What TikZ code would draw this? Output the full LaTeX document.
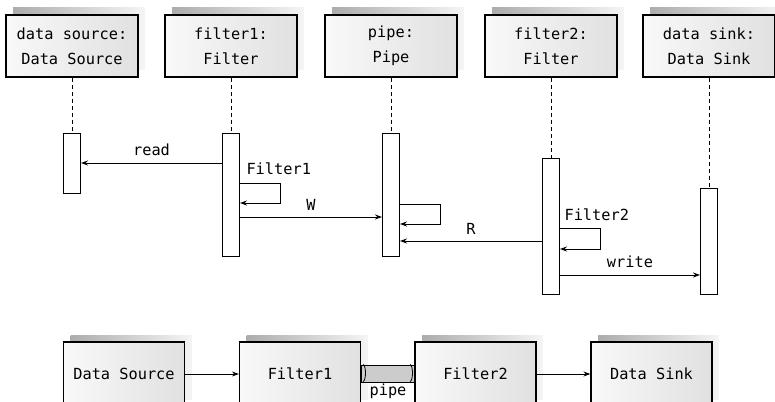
\documentclass[tikz,border=0pt]{standalone}
\usepackage{fontspec}
\setmonofont{DejaVu Sans Mono}
\usetikzlibrary{arrows.meta,shadows}

\begin{document}
\begin{tikzpicture}[>={Stealth[length=7pt,width=5pt]}, x=1pt, y=-1pt,
  every node/.style={font=\ttfamily\fontsize{15.3}{25}\selectfont},
  head/.style={draw, line width=1.2pt, minimum width=132pt, minimum height=62pt, align=center,
    left color=gray!5, right color=gray!24,
    general shadow={shadow xshift=7pt, shadow yshift=7pt, left color=gray!65, right color=gray!8}},
  block/.style={head, minimum width=121pt, minimum height=64pt},
  bar/.style={draw, line width=1pt, fill=white, minimum width=17pt, inner sep=0pt, anchor=north},
  msg/.style={->, line width=1pt},
  life/.style={dash pattern=on 4pt off 3pt, line width=1pt}]
  \def\loopw{40}
  \clip (0,0) rectangle (775,401);
  % object heads
  \node[head] (ds) at (72,46) {data source:\\Data Source};
  \node[head] (f1) at (231,46) {filter1:\\Filter};
  \node[head] (pp) at (391,46) {pipe:\\Pipe};
  \node[head] (f2) at (551,46) {filter2:\\Filter};
  \node[head] (dk) at (709,46) {data sink:\\Data Sink};
  % activation bars
  \node[bar, minimum height=60pt] (dsbar) at (72,133) {};
  \node[bar, minimum height=123pt] (f1bar) at (231,133) {};
  \node[bar, minimum height=123pt] (ppbar) at (391,133) {};
  \node[bar, minimum height=136pt] (f2bar) at (551,158) {};
  \node[bar, minimum height=106pt] (dkbar) at (709,188) {};
  \draw[life] (ds) -- (dsbar);
  \draw[life] (f1) -- (f1bar);
  \draw[life] (pp) -- (ppbar);
  \draw[life] (f2) -- (f2bar);
  \draw[life] (dk) -- (dkbar);
  % messages
  \draw[msg] (f1bar.west |- 0,163) -- (dsbar.east |- 0,163) node[midway, above=3pt] {read};
  \draw[msg] (f1bar.east |- 0,183) -- ++(\loopw,0) -- ++(0,20) -- (f1bar.east |- 0,203);
  \node[anchor=west] (lf1) at (243,169) {Filter1};
  \draw[msg] (f1bar.east |- 0,217) -- (ppbar.west |- 0,217) node[midway, above=3pt] {W};
  \draw[msg] (ppbar.east |- 0,204) -- ++(\loopw,0) -- ++(0,20) -- (ppbar.east |- 0,224);
  \draw[msg] (f2bar.west |- 0,241) -- (ppbar.east |- 0,241) node[midway, above=3pt] {R};
  \draw[msg] (f2bar.east |- 0,228) -- ++(\loopw,0) -- ++(0,21) -- (f2bar.east |- 0,249);
  \node[anchor=west] (lf2) at (561,215) {Filter2};
  \draw[msg] (f2bar.east |- 0,275) -- (dkbar.west |- 0,275) node[midway, above=3pt] {write};
  % pipes and filters
  \node[block] (bsrc) at (124,374) {Data Source};
  \node[block] (bf1) at (300,374) {Filter1};
  \node[block] (bf2) at (475.5,374) {Filter2};
  \node[block] (bsnk) at (651.5,374) {Data Sink};
  \node[draw, line width=1pt, inner sep=0pt, minimum width=53pt, minimum height=17pt,
    top color=gray!40, middle color=white, bottom color=gray!40] (bpipe) at (388,373.5) {};
  \draw[line width=0.8pt] ([xshift=2pt]bpipe.north west) arc[start angle=90, end angle=-90, x radius=2.5pt, y radius=8.5pt];
  \draw[line width=0.8pt] ([xshift=-5pt]bpipe.north east) arc[start angle=90, end angle=-90, x radius=2.5pt, y radius=8.5pt];
  \node[anchor=north, inner sep=0pt] (lpipe) at (388,384) {pipe};
  \draw[msg] (bsrc) -- (bf1);
  \draw[msg] (bf2) -- (bsnk);
\end{tikzpicture}
\end{document}
